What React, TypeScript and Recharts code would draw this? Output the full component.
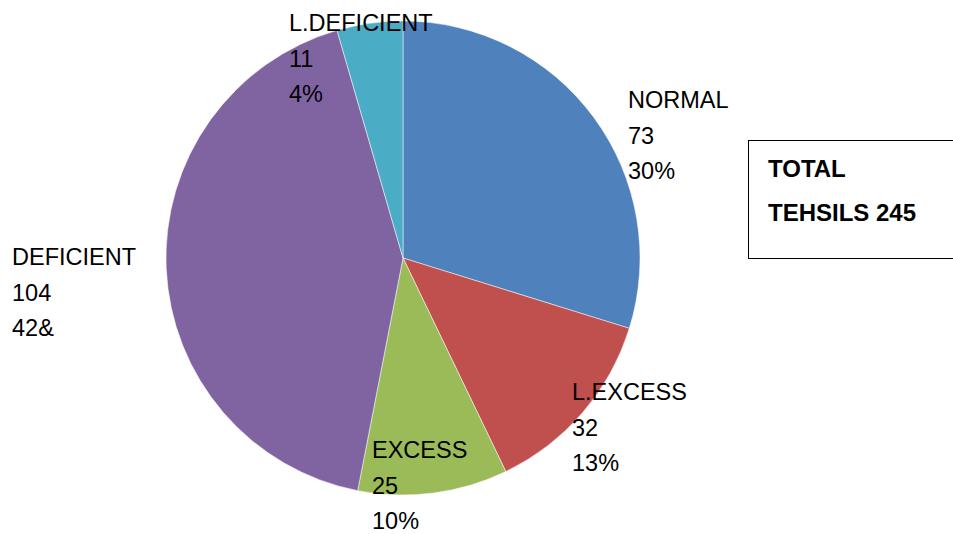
import { PieChart, Pie, Cell } from 'recharts';

const categories = ['NORMAL', 'L.EXCESS', 'EXCESS', 'DEFICIENT', 'L.DEFICIENT'];
const tehsils = [73, 32, 25, 104, 11];
const percentLabels = ['30%', '13%', '10%', '42&', '4%'];
const colors = ['#4F81BD', '#C0504D', '#9BBB59', '#8064A2', '#4BACC6'];

// label block placement relative to pie centre (text start x, first baseline y)
const labelOffsets = [
  [225, -150],
  [169, 142],
  [-31, 200],
  [-391, 7],
  [-114, -227],
];

const data = categories.map((name, i) => ({ name, value: tehsils[i], pct: percentLabels[i] }));

const FONT = '"Liberation Sans", Arial, sans-serif';

const renderLabel = (props: any) => {
  const { cx, cy, index } = props;
  const [dx, dy] = labelOffsets[index];
  const x = cx + dx;
  const y = cy + dy;
  const d = data[index];
  return (
    <text x={x} y={y} fill="#000" fontSize={23.5} fontFamily={FONT} textAnchor="start">
      <tspan x={x} y={y}>{d.name}</tspan>
      <tspan x={x} y={y + 35.5}>{d.value}</tspan>
      <tspan x={x} y={y + 71}>{d.pct}</tspan>
    </text>
  );
};

export default function App() {
  return (
    <div style={{ position: 'absolute', left: 0, top: 0, width: 953, height: 534, background: '#fff' }}>
      <PieChart width={953} height={534} margin={{ top: 0, right: 0, bottom: 0, left: 0 }}>
        <Pie
          data={data}
          dataKey="value"
          nameKey="name"
          cx={403}
          cy={258}
          outerRadius={237}
          startAngle={90}
          endAngle={-270}
          stroke="#ffffff"
          strokeWidth={0.5}
          label={renderLabel}
          labelLine={false}
          isAnimationActive={false}
        >
          {data.map((d, i) => (
            <Cell key={d.name} fill={colors[i]} />
          ))}
        </Pie>
      </PieChart>
      <div
        style={{
          position: 'absolute',
          left: 748,
          top: 140,
          width: 220,
          height: 119,
          border: '1.5px solid #000',
          boxSizing: 'border-box',
          fontFamily: FONT,
          fontWeight: 'bold',
          fontSize: 24,
          lineHeight: '44px',
          paddingLeft: 19,
          paddingTop: 6,
          color: '#000',
        }}
      >
        <div>TOTAL</div>
        <div>TEHSILS 245</div>
      </div>
    </div>
  );
}
